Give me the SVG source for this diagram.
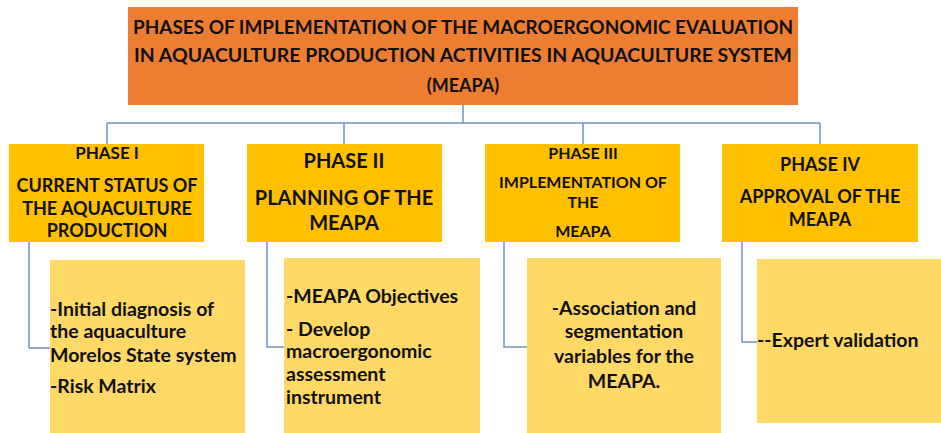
<svg xmlns="http://www.w3.org/2000/svg" width="941" height="433" viewBox="0 0 941 433">
  <style>
    text { font-family: Lato, "Open Sans", "Liberation Sans", sans-serif; font-weight: bold; fill: #111; }
    .title { font-size: 18px; }
    .mid { text-anchor: middle; }
    .phase { fill: #FFC000; }
    .detail { fill: #FFD966; }
    .link { fill: none; stroke: #7391C0; stroke-width: 1.5; }
    .sub { font-size: 19.5px; }
  </style>

  <!-- tree connectors -->
  <g id="connectors">
    <path class="link" d="M463 105 V123 M107 123 H820 M107 123 V144 M344 123 V144 M583 123 V144 M820 123 V144"/>
    <path class="link" d="M29 242 V348 H50"/>
    <path class="link" d="M267 242 V347 H284"/>
    <path class="link" d="M504 242 V347 H527"/>
    <path class="link" d="M742 242 V342 H757"/>
  </g>

  <!-- heading -->
  <g id="title">
    <rect x="128" y="7" width="670" height="98" fill="#ED7D31"/>
    <text class="title mid" x="463" y="34" textLength="660" lengthAdjust="spacingAndGlyphs">PHASES OF IMPLEMENTATION OF THE MACROERGONOMIC EVALUATION</text>
    <text class="title mid" x="463" y="62" textLength="658" lengthAdjust="spacingAndGlyphs">IN AQUACULTURE  PRODUCTION ACTIVITIES IN AQUACULTURE  SYSTEM</text>
    <text class="title mid" x="463" y="92">(MEAPA)</text>
  </g>

  <!-- phase headers -->
  <g id="phase1">
    <rect class="phase" x="9" y="144" width="195" height="98"/>
    <text class="mid" x="107" y="159" font-size="17">PHASE I</text>
    <text class="mid" x="107" y="192" font-size="18">CURRENT STATUS OF</text>
    <text class="mid" x="107" y="215" font-size="18">THE AQUACULTURE</text>
    <text class="mid" x="107" y="237" font-size="18">PRODUCTION</text>
  </g>

  <g id="phase2">
    <rect class="phase" x="247" y="144" width="195" height="98"/>
    <text class="mid" x="344" y="168" font-size="20">PHASE II</text>
    <text class="mid" x="344" y="205" font-size="20">PLANNING OF THE</text>
    <text class="mid" x="344" y="230" font-size="20">MEAPA</text>
  </g>

  <g id="phase3">
    <rect class="phase" x="485" y="144" width="195" height="98"/>
    <text class="mid" x="583" y="159" font-size="16">PHASE III</text>
    <text class="mid" x="583" y="188" font-size="16">IMPLEMENTATION  OF</text>
    <text class="mid" x="583" y="208" font-size="16">THE</text>
    <text class="mid" x="583" y="237" font-size="16">MEAPA</text>
  </g>

  <g id="phase4">
    <rect class="phase" x="722" y="144" width="196" height="98"/>
    <text class="mid" x="820" y="171" font-size="18">PHASE IV</text>
    <text class="mid" x="820" y="203" font-size="18">APPROVAL OF THE</text>
    <text class="mid" x="820" y="226" font-size="18">MEAPA</text>
  </g>

  <!-- detail boxes -->
  <g id="detail1">
    <rect class="detail" x="50" y="260" width="195" height="173"/>
    <text class="sub" x="50" y="316">-Initial diagnosis of</text>
    <text class="sub" x="50" y="338">the aquaculture</text>
    <text class="sub" x="50" y="362">Morelos State system</text>
    <text class="sub" x="50" y="393">-Risk Matrix</text>
  </g>

  <g id="detail2">
    <rect class="detail" x="284" y="258" width="196" height="175"/>
    <text class="sub" x="286" y="303">-MEAPA Objectives</text>
    <text class="sub" x="286" y="336">- Develop</text>
    <text class="sub" x="286" y="358">macroergonomic</text>
    <text class="sub" x="286" y="381">assessment</text>
    <text class="sub" x="286" y="404">instrument</text>
  </g>

  <g id="detail3">
    <rect class="detail" x="527" y="258" width="194" height="175"/>
    <text class="sub mid" x="624" y="315">-Association  and</text>
    <text class="sub mid" x="624" y="338">segmentation</text>
    <text class="sub mid" x="624" y="363">variables for the</text>
    <text class="sub mid" x="624" y="388">MEAPA.</text>
  </g>

  <g id="detail4">
    <rect class="detail" x="757" y="259" width="184" height="164"/>
    <text class="sub" x="757" y="347">--Expert validation</text>
  </g>
</svg>
